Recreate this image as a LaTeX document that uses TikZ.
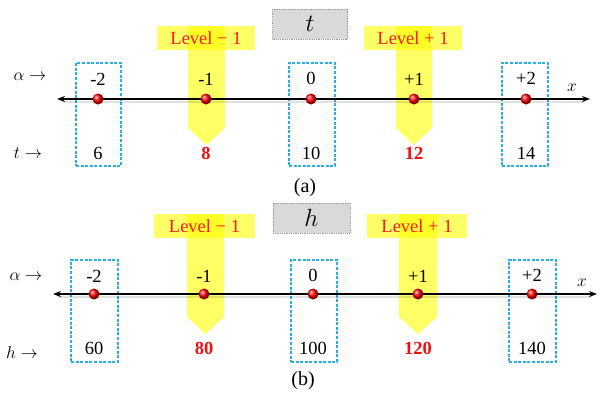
\documentclass[tikz,border=0pt]{standalone}
\usepackage{fontspec}
\setmainfont{Liberation Serif}
\usetikzlibrary{arrows.meta}
\definecolor{boxblue}{HTML}{2AAEE6}
\definecolor{lvlred}{HTML}{FF1A1A}
\definecolor{valred}{HTML}{F01010}
\definecolor{ylw}{HTML}{FFFF00}
\definecolor{graybox}{HTML}{D9D9D9}
\tikzset{
  txt/.style={font=\fontsize{18.5}{21}\selectfont, inner sep=0pt},
  valbox/.style={draw=boxblue, dash pattern=on 3pt off 1.6pt, line width=1.1pt, inner sep=0pt},
  lvlcol/.style={fill=ylw, fill opacity=0.6},
  lvllabel/.style={fill=ylw, fill opacity=0.6, text opacity=1, text=lvlred, inner sep=0pt,
     minimum height=24pt, font=\fontsize{18.5}{21}\selectfont},
  varbox/.style={fill=graybox, draw=gray!80, densely dotted, line width=0.8pt, inner sep=0pt,
     minimum height=30pt, font=\fontsize{23}{25}\selectfont},
  axisline/.style={line width=1.5pt, {Stealth[length=8pt,width=6pt]}-{Stealth[length=8pt,width=6pt]}},
  axshadow/.style={line width=2pt, black, opacity=0.12},
  dot/.style={circle, minimum size=11pt, inner sep=0pt, ball color=red, draw=none},
  redval/.style={txt, text=valred, font=\fontsize{18.5}{21}\selectfont\bfseries},
  caption/.style={font=\fontsize{20}{23}\selectfont, inner sep=0pt},
}
\begin{document}
\begin{tikzpicture}[x=1pt,y=-1pt]
\useasboundingbox (0,0) rectangle (608,397);
\fill[white] (0,0) rectangle (608,397);

% ================= panel (a) =================
\node[varbox, minimum width=75pt] (avar) at (310,24) {$t$};
% yellow columns
\fill[lvlcol] (188,26) -- (225,26) -- (225,128) -- (206.5,145) -- (188,128) -- cycle;
\fill[lvlcol] (396,26) -- (432,26) -- (432,128) -- (414,145) -- (396,128) -- cycle;
\node[lvllabel, minimum width=98pt] (alm) at (206,38) {Level − 1};
\node[lvllabel, minimum width=98pt] (alp) at (413,38) {Level + 1};
% dashed boxes
\node[valbox, minimum width=45pt, minimum height=103pt] (abm2) at (98.5,114.5) {};
\node[valbox, minimum width=46pt, minimum height=103pt] (ab0) at (312,114.5) {};
\node[valbox, minimum width=46pt, minimum height=103pt] (abp2) at (525,114.5) {};
% axis
\coordinate (aL) at (57,99);
\coordinate (aR) at (590,99);
\coordinate (aLs) at (62,102);
\coordinate (aRs) at (585,102);
\draw[axshadow] (aLs) -- (aRs);
\draw[axisline] (aL) -- (aR);
\node[txt] (ax) at (572,88) {$x$};
% dots
\node[dot] (adm2) at (98,99) {};
\node[dot] (adm1) at (206,99) {};
\node[dot] (ad0) at (311,99) {};
\node[dot] (adp1) at (414,99) {};
\node[dot] (adp2) at (526,99) {};
% alpha labels
\node[txt] (aam2) at (98,79) {-2};
\node[txt] (aam1) at (206,79) {-1};
\node[txt] (aa0) at (311,78) {0};
\node[txt] (aap1) at (414,79) {+1};
\node[txt] (aap2) at (526,78) {+2};
% values
\node[txt] (avm2) at (98,153) {6};
\node[redval] (avm1) at (206,153) {8};
\node[txt] (av0) at (311,153) {10};
\node[redval] (avp1) at (414,153) {12};
\node[txt] (avp2) at (526,153) {14};
% row labels
\node[txt] (arowa) at (30,77) {$\alpha\rightarrow$};
\node[txt] (arowt) at (28,153) {$t\rightarrow$};
\node[caption] (acap) at (305,188) {(a)};

% ================= panel (b) =================
\node[varbox, minimum width=77pt] (bvar) at (311.5,218) {$h$};
\fill[lvlcol] (187,214) -- (224,214) -- (224,317) -- (205.5,334) -- (187,317) -- cycle;
\fill[lvlcol] (399,214) -- (437,214) -- (437,317) -- (418,334) -- (399,317) -- cycle;
\node[lvllabel, minimum width=101pt] (blm) at (204.5,226) {Level − 1};
\node[lvllabel, minimum width=100pt] (blp) at (417,226) {Level + 1};
\node[valbox, minimum width=47pt, minimum height=102pt] (bbm2) at (94.5,311) {};
\node[valbox, minimum width=46pt, minimum height=102pt] (bb0) at (314,311) {};
\node[valbox, minimum width=47pt, minimum height=102pt] (bbp2) at (532.5,311) {};
\coordinate (bL) at (53,294);
\coordinate (bR) at (597,294);
\coordinate (bLs) at (58,297);
\coordinate (bRs) at (592,297);
\draw[axshadow] (bLs) -- (bRs);
\draw[axisline] (bL) -- (bR);
\node[txt] (bx) at (582,283) {$x$};
\node[dot] (bdm2) at (94,294) {};
\node[dot] (bdm1) at (204,294) {};
\node[dot] (bd0) at (313,294) {};
\node[dot] (bdp1) at (418,294) {};
\node[dot] (bdp2) at (532,294) {};
\node[txt] (bam2) at (94,276) {-2};
\node[txt] (bam1) at (204,276) {-1};
\node[txt] (ba0) at (313,275) {0};
\node[txt] (bap1) at (418,276) {+1};
\node[txt] (bap2) at (532,275) {+2};
\node[txt] (bvm2) at (94,348) {60};
\node[redval] (bvm1) at (204,348) {80};
\node[txt] (bv0) at (313,348) {100};
\node[redval] (bvp1) at (418,348) {120};
\node[txt] (bvp2) at (532,348) {140};
\node[txt] (browa) at (26,277) {$\alpha\rightarrow$};
\node[txt] (browh) at (22,352) {$h\rightarrow$};
\node[caption] (bcap) at (303,381) {(b)};
\end{tikzpicture}
\end{document}
